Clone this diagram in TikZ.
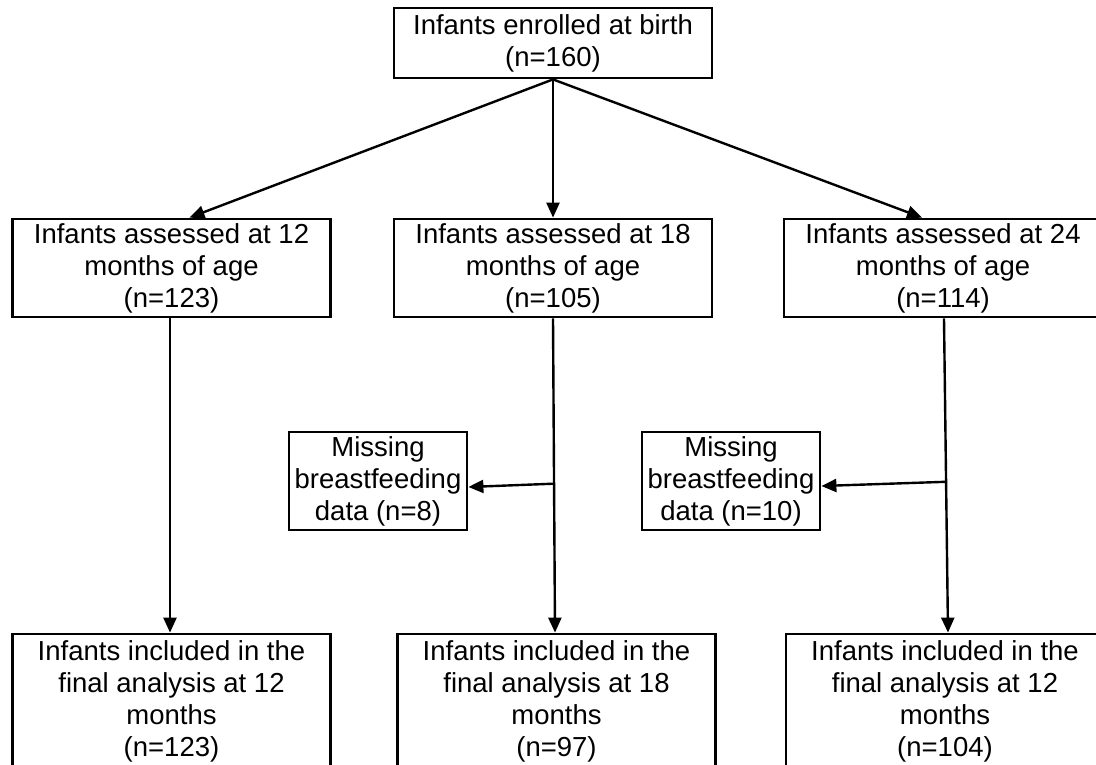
\documentclass[tikz,border=0pt]{standalone}
\usepackage{fontspec}
\setmainfont{Liberation Sans}
\usetikzlibrary{arrows.meta,calc}
\begin{document}
\begin{tikzpicture}[x=1pt,y=-1pt,
  box/.style={draw,line width=2.8pt,align=center,inner sep=0pt,font=\fontsize{27.5}{32}\selectfont},
  bigbox/.style={box,minimum width=318pt,minimum height=98pt},
  missbox/.style={box,minimum width=178pt,minimum height=98pt},
  endbox/.style={box,minimum width=318pt,minimum height=134pt},
  arr/.style={line width=2.4pt,-{Triangle[length=15pt,width=13pt]}}]
\useasboundingbox (0,0) rectangle (1096,764);
\fill[white] (0,0) rectangle (1096,764);
\node[box,minimum width=318pt,minimum height=70pt] (top) at (553,43) {Infants enrolled at birth\\(n=160)};
\node[bigbox] (l1) at (171.5,268) {Infants assessed at 12\\months of age\\(n=123)};
\node[bigbox] (m1) at (553,268) {Infants assessed at 18\\months of age\\(n=105)};
\node[bigbox] (r1) at (943,268) {Infants assessed at 24\\months of age\\(n=114)};
\node[missbox] (s1) at (378,481) {Missing\\breastfeeding\\data (n=8)};
\node[missbox] (s2) at (731,481) {Missing\\breastfeeding\\data (n=10)};
\node[endbox] (l2) at (171.5,701) {Infants included in the\\final analysis at 12\\months\\(n=123)};
\node[endbox] (m2) at (556.5,701) {Infants included in the\\final analysis at 18\\months\\(n=97)};
\node[endbox] (r2) at (945,701) {Infants included in the\\final analysis at 12\\months\\(n=104)};
\draw[arr] (top.south) -- ($(l1.north)+(18,0)$);
\draw[arr] (top.south) -- (m1.north);
\draw[arr] (top.south) -- ($(r1.north)+(-21,0)$);
\draw[arr] ($(l1.south)+(-1.5,0)$) -- ($(l2.north)+(-1.5,0)$);
\draw[arr] (m1.south) -- ($(m2.north)+(-1.5,0)$);
\draw[arr] ($(r1.south)+(1,0)$) -- ($(r2.north)+(3,0)$);
\coordinate (c1) at ($(m1.south)!0.526!($(m2.north)+(-1.5,0)$)$);
\coordinate (c2) at ($($(r1.south)+(1,0)$)!0.52!($(r2.north)+(3,0)$)$);
\draw[arr] (c1) -- ($(s1.east)+(0,6)$);
\draw[arr] (c2) -- ($(s2.east)+(0,5)$);
\end{tikzpicture}
\end{document}
